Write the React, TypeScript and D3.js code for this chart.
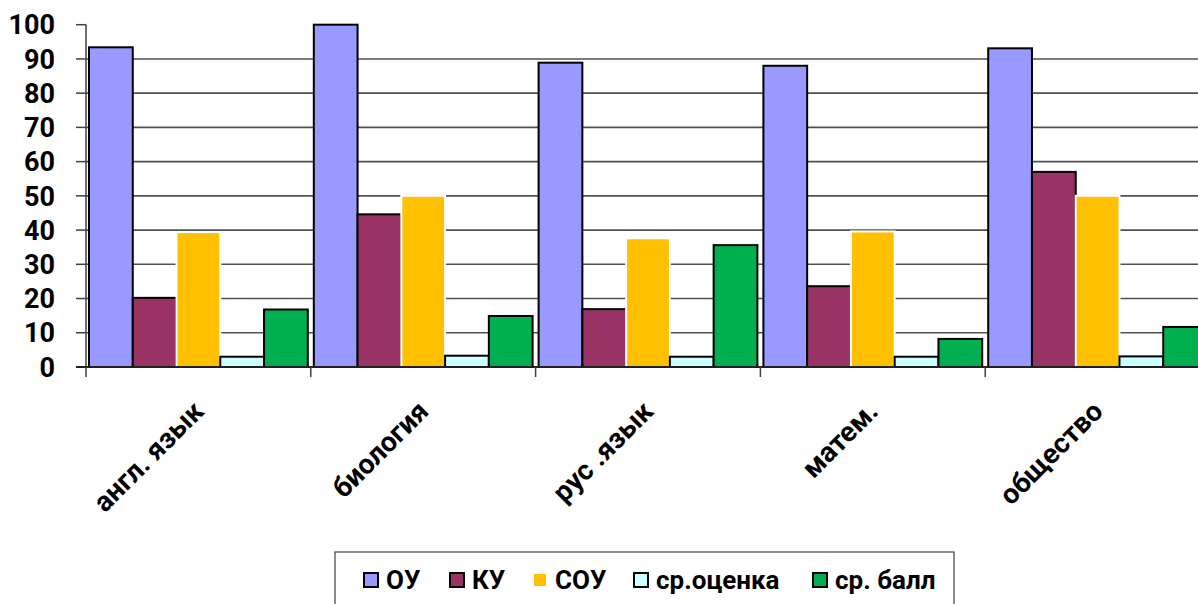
import React from 'react';
import * as d3 from 'd3';

const categories = ['англ. язык', 'биология', 'рус .язык', 'матем.', 'общество'];
const seriesNames = ['ОУ', 'КУ', 'СОУ', 'ср.оценка', 'ср. балл'];
const ou = [93.4, 100, 88.9, 88.0, 93.1];
const ku = [20.2, 44.6, 16.9, 23.6, 57.0];
const sou = [39.4, 50, 37.6, 39.6, 50];
const ocenka = [3.0, 3.3, 3.0, 3.0, 3.1];
const ball = [16.8, 14.9, 35.6, 8.2, 11.7];
const yTicks = [0, 10, 20, 30, 40, 50, 60, 70, 80, 90, 100];
const colors = ['#9999FF', '#993366', '#FFC000', '#CCFFFF', '#00B050'];

const seriesValues = [ou, ku, sou, ocenka, ball];

export default function App() {
  const W = 1198;
  const H = 604;
  const left = 86;
  const bandW = 224.8;
  const font = 'Roboto, "Open Sans", sans-serif';

  const x0 = d3.scaleBand<string>().domain(categories).range([left, left + bandW * categories.length]);
  const x1 = d3.scaleBand<string>().domain(seriesNames).range([3, bandW - 3]);
  const y = d3.scaleLinear().domain([0, 100]).range([367, 24.7]);

  const legendX = [371, 457, 540, 641, 820];
  const legendY = 580;

  return (
    <div style={{ position: 'absolute', left: 0, top: 0 }}>
      <svg width={W} height={H} style={{ display: 'block', background: '#fff' }}>
        {/* gridlines */}
        {yTicks.filter(t => t > 0 && t < 100).map(t => (
          <line key={'g' + t} x1={left} x2={W} y1={y(t)} y2={y(t)} stroke="#505050" strokeWidth={1.6} />
        ))}
        {/* bars */}
        {categories.map((c, ci) => (
          <g key={c} transform={`translate(${x0(c)},0)`}>
            {seriesNames.map((s, si) => {
              const v = seriesValues[si][ci];
              const isYellow = si === 2;
              return (
                <rect
                  key={s}
                  x={x1(s)}
                  y={y(v)}
                  width={x1.bandwidth()}
                  height={y(0) - y(v)}
                  fill={colors[si]}
                  stroke={isYellow ? '#ffffff' : '#000000'}
                  strokeWidth={2}
                />
              );
            })}
          </g>
        ))}
        {/* y axis */}
        <line x1={left} x2={left} y1={y(100)} y2={y(0)} stroke="#404040" strokeWidth={1.5} />
        {yTicks.map(t => (
          <g key={'t' + t}>
            <line x1={left - 10} x2={left} y1={y(t)} y2={y(t)} stroke="#404040" strokeWidth={1.5} />
            <text x={55} y={y(t)} dy="0.36em" textAnchor="end" fontFamily={font} fontWeight="bold" fontSize={27} fill="#000">
              {t}
            </text>
          </g>
        ))}
        {/* x axis */}
        <line x1={left - 10} x2={W} y1={y(0)} y2={y(0)} stroke="#202020" strokeWidth={1.8} />
        {categories.map(c => (
          <line key={'xt' + c} x1={x0(c)} x2={x0(c)} y1={y(0)} y2={y(0) + 10} stroke="#404040" strokeWidth={1.5} />
        ))}
        {categories.map(c => {
          const cx = (x0(c) as number) + x0.bandwidth() / 2;
          return (
            <text
              key={'xl' + c}
              transform={`translate(${cx + 7},413) rotate(-45)`}
              textAnchor="end"
              fontFamily={font}
              fontWeight="bold"
              fontSize={28}
              fill="#000"
            >
              {c}
            </text>
          );
        })}
        {/* legend */}
        <rect x={335} y={552} width={619} height={70} fill="#fff" stroke="#404040" strokeWidth={1.2} />
        {seriesNames.map((s, si) => (
          <g key={'l' + s}>
            <rect
              x={legendX[si] - 7}
              y={legendY - 7}
              width={14}
              height={14}
              fill={colors[si]}
              stroke={si === 2 ? '#ffffff' : '#000'}
              strokeWidth={2}
            />
            <text x={legendX[si] + 15} y={legendY} dy="0.36em" fontFamily={font} fontWeight="bold" fontSize={26} fill="#000">
              {s}
            </text>
          </g>
        ))}
      </svg>
    </div>
  );
}
